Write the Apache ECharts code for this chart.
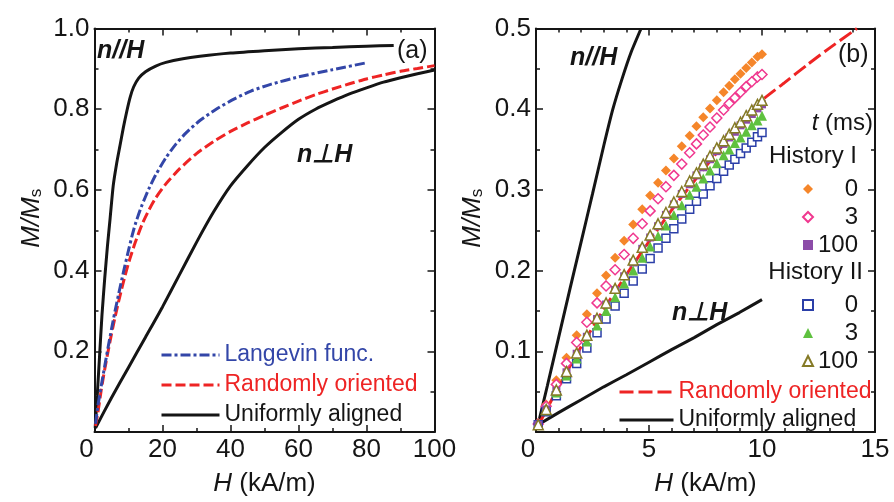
<!DOCTYPE html>
<html><head><meta charset="utf-8">
<script src="https://cdn.jsdelivr.net/npm/echarts@6/dist/echarts.min.js"></script>
<style>html,body{margin:0;padding:0;background:#fff}#c{width:894px;height:502px}</style>
</head><body><div id="c"></div>
<script>
// ---------- Panel (a) ----------
const parH_a = [0.2,0.8,1.5,2.2,3.0,3.8,4.6,5.5,6.5,7.5,8.5,9.5,10.5,11.5,13,15,18,21,26,31,40,50,60,70,80,88];
const parM_a = [0.01,0.09,0.19,0.29,0.38,0.46,0.53,0.61,0.665,0.71,0.755,0.795,0.83,0.855,0.877,0.893,0.907,0.916,0.925,0.931,0.939,0.945,0.95,0.953,0.956,0.958];
const perpH_a = [0.3,5,10,15,20,25,30,35,40,45,50,55,60,65,70,75,80,85,90,95,100];
const perpM_a = [0.01,0.085,0.16,0.235,0.31,0.39,0.47,0.545,0.61,0.66,0.705,0.742,0.775,0.8,0.82,0.838,0.853,0.867,0.878,0.888,0.897];
const langH_a = [0.3,1,2,3,4,5,6,7,8,9,10,11,12,13,14,16,18,21,24,27,31,36,41,46,52,60,70,80];
const langM_a = [0.02,0.065,0.115,0.163,0.21,0.255,0.298,0.338,0.377,0.414,0.45,0.485,0.515,0.54,0.563,0.603,0.637,0.68,0.714,0.742,0.772,0.801,0.825,0.845,0.862,0.88,0.898,0.915];
const randH_a = [0.3,1,2,3,4,5,6,7,8,9,10,11,12,14,16,18,21,25,30,35,40,45,50,55,60,65,70,75,80,85,90,95,100];
const randM_a = [0.015,0.048,0.105,0.155,0.2,0.243,0.283,0.32,0.355,0.388,0.418,0.445,0.47,0.515,0.55,0.58,0.615,0.652,0.69,0.72,0.745,0.766,0.785,0.803,0.82,0.836,0.85,0.863,0.875,0.885,0.894,0.901,0.908];

// ---------- Panel (b) ----------
const parH_b = [0.1,0.5,1.0,1.5,2.0,2.5,3.0,3.4,3.8,4.2,4.65];
const parM_b = [0.01,0.057,0.117,0.177,0.236,0.295,0.355,0.4,0.437,0.47,0.5];
const perpH_b = [0.1,1,2,3,4,5,6,7,8,9,10];
const perpM_b = [0.009,0.024,0.04,0.056,0.071,0.0865,0.102,0.117,0.133,0.148,0.164];
const randH_b = [0.1,1,2,3,4,5,6,7,8,9,10,11,12,13,14,14.2];
const randM_b = [0.008,0.056,0.106,0.152,0.195,0.236,0.275,0.311,0.346,0.38,0.411,0.433,0.455,0.476,0.496,0.5];

const H_b = [0.1,0.45,0.9,1.35,1.8,2.25,2.7,3.1,3.5,3.9,4.3,4.7,5.05,5.4,5.75,6.1,6.45,6.8,7.1,7.4,7.7,8.0,8.3,8.55,8.8,9.05,9.3,9.55,9.8,10.0];
const hist1_0   = [0.011,0.034,0.064,0.092,0.120,0.146,0.172,0.194,0.216,0.237,0.257,0.276,0.293,0.309,0.324,0.339,0.354,0.367,0.379,0.390,0.401,0.411,0.421,0.429,0.437,0.444,0.451,0.458,0.465,0.468];
const hist1_3   = [0.010,0.032,0.059,0.085,0.111,0.136,0.160,0.181,0.201,0.220,0.240,0.258,0.274,0.289,0.304,0.318,0.332,0.346,0.357,0.368,0.378,0.389,0.399,0.407,0.414,0.421,0.428,0.434,0.440,0.443];
const hist1_100 = [0.009,0.028,0.051,0.074,0.097,0.118,0.140,0.158,0.176,0.193,0.210,0.227,0.241,0.255,0.269,0.282,0.295,0.307,0.318,0.328,0.338,0.348,0.357,0.365,0.372,0.380,0.387,0.394,0.401,0.406];
const hist2_0   = [0.009,0.025,0.045,0.066,0.085,0.104,0.123,0.140,0.156,0.172,0.187,0.202,0.215,0.228,0.240,0.252,0.264,0.276,0.286,0.295,0.305,0.314,0.323,0.331,0.338,0.345,0.352,0.359,0.366,0.371];
const hist2_3   = [0.009,0.027,0.049,0.070,0.091,0.112,0.132,0.150,0.167,0.184,0.200,0.216,0.230,0.243,0.256,0.269,0.281,0.294,0.304,0.314,0.324,0.333,0.343,0.350,0.358,0.365,0.372,0.380,0.386,0.392];
const hist2_100 = [0.009,0.028,0.052,0.075,0.098,0.120,0.141,0.160,0.178,0.195,0.213,0.229,0.244,0.258,0.272,0.285,0.298,0.311,0.321,0.332,0.342,0.352,0.361,0.369,0.377,0.384,0.392,0.399,0.406,0.411];

const FONT = "'Liberation Sans', Arial, sans-serif";
const INK = '#151515';
const zip = (xs, ys) => xs.map((x, i) => [x, ys[i]]);

function xAxis(grid, pos, max, interval, minorSplit) {
  const bottom = pos === 'bottom';
  return {
    type: 'value', gridIndex: grid, position: pos, min: 0, max: max, interval: interval,
    axisLine: { show: true, onZero: false, lineStyle: { color: INK, width: 2 } },
    axisTick: { show: true, inside: true, length: 7, lineStyle: { color: INK, width: 1.5 } },
    minorTick: { show: true, splitNumber: minorSplit, length: 4, lineStyle: { color: INK, width: 1.5 } },
    splitLine: { show: false }, minorSplitLine: { show: false },
    axisLabel: bottom ? {
      show: true, fontSize: 26, fontFamily: FONT, color: INK, margin: 5,
      formatter: v => v === 0 ? '{z|0}' : String(v),
      rich: { z: { fontSize: 26, fontFamily: FONT, color: INK, padding: [0, 16, 0, 0] } }
    } : { show: false },
    name: bottom ? '{i|H} (kA/m)' : '', nameLocation: 'middle', nameGap: 39,
    nameTextStyle: { fontSize: 26, fontFamily: FONT, color: INK,
      rich: { i: { fontSize: 26, fontFamily: FONT, fontStyle: 'italic', color: INK } } }
  };
}
function yAxis(grid, pos, max, interval) {
  const left = pos === 'left';
  return {
    type: 'value', gridIndex: grid, position: pos, min: 0, max: max, interval: interval,
    axisLine: { show: true, onZero: false, lineStyle: { color: INK, width: 2 } },
    axisTick: { show: true, inside: true, length: 7, lineStyle: { color: INK, width: 1.5 } },
    minorTick: { show: true, splitNumber: 2, length: 4, lineStyle: { color: INK, width: 1.5 } },
    splitLine: { show: false }, minorSplitLine: { show: false },
    axisLabel: left ? { show: true, fontSize: 26, fontFamily: FONT, color: INK, margin: 5,
      formatter: v => v === 0 ? '' : v.toFixed(1) } : { show: false },
    name: left ? '{i|M/M}{s|s}' : '', nameLocation: 'middle', nameGap: 50, nameRotate: 90,
    nameTextStyle: { fontSize: 26, fontFamily: FONT, color: INK, padding: [0, 0, 0, 24],
      rich: { i: { fontSize: 26, fontFamily: FONT, fontStyle: 'italic', color: INK },
              s: { fontSize: 17, fontFamily: FONT, color: INK, verticalAlign: 'bottom' } } }
  };
}
function line(name, xs, ys, xi, color, type, width) {
  return { name: name, type: 'line', xAxisIndex: xi, yAxisIndex: xi, data: zip(xs, ys),
    symbol: 'none', smooth: 0.2, z: 2,
    lineStyle: { color: color, width: width || 3, type: type || 'solid', cap: 'butt' },
    itemStyle: { color: color } };
}
function scat(name, ys, symbol, size, fill, border) {
  return { name: name, type: 'scatter', xAxisIndex: 2, yAxisIndex: 2, data: zip(H_b, ys),
    symbol: symbol, symbolSize: size, z: 3,
    itemStyle: border ? { color: '#fff', borderColor: border, borderWidth: 1.5, opacity: 1 }
                      : { color: fill, opacity: 1 } };
}
const txt = (x, y, text, opts) => ({ type: 'text', x: x, y: y, z: 50,
  style: Object.assign({ text: text, fontSize: 25, fontFamily: FONT, fill: INK,
    align: 'left', verticalAlign: 'middle', textAlign: 'left', textVerticalAlign: 'middle' }, opts || {}) });

const chart = echarts.init(document.getElementById('c'), null, { renderer: 'canvas' });
const legText = { fontSize: 23, fontFamily: FONT, color: INK, lineHeight: 24 };
const mk = { fontSize: 24, fontFamily: FONT, color: INK, lineHeight: 24 };
chart.setOption({
  animation: false,
  backgroundColor: '#fff',
  grid: [
    { left: 94.5, top: 28.5, width: 340, height: 412 },
    { left: 536, top: 28.5, width: 339, height: 412 }
  ],
  xAxis: [ xAxis(0, 'bottom', 100, 20, 2), xAxis(0, 'top', 100, 20, 2),
           xAxis(1, 'bottom', 15, 5, 5), xAxis(1, 'top', 15, 5, 5) ],
  yAxis: [ yAxis(0, 'left', 1.0, 0.2), yAxis(0, 'right', 1.0, 0.2),
           yAxis(1, 'left', 0.5, 0.1), yAxis(1, 'right', 0.5, 0.1) ],
  legend: [
    { selectedMode: false, orient: 'vertical', left: 155, top: 338, itemWidth: 58, itemHeight: 14, itemGap: 6,
      itemStyle: { opacity: 0 }, lineStyle: { width: 3 }, textStyle: legText,
      data: [ { name: 'Langevin func.', textStyle: { color: '#3346a8' } },
              { name: 'Randomly oriented', textStyle: { color: '#ee2424' } },
              { name: 'Uniformly aligned', textStyle: { color: INK } } ] },
    { selectedMode: false, orient: 'vertical', left: 797, top: 172, itemWidth: 10, itemHeight: 10, itemGap: 4,
      textStyle: Object.assign({ rich: { r: Object.assign({ width: 40, align: 'right' }, mk) } }, mk),
      formatter: n => '{r|' + n.split('-')[1] + '}',
      data: ['I-0', 'I-3', 'I-100'] },
    { selectedMode: false, orient: 'vertical', left: 797, top: 288, itemWidth: 10, itemHeight: 10, itemGap: 4,
      textStyle: Object.assign({ rich: { r: Object.assign({ width: 40, align: 'right' }, mk) } }, mk),
      formatter: n => '{r|' + n.split('-')[1] + '}',
      data: ['II-0', 'II-3', 'II-100'] },
    { selectedMode: false, orient: 'vertical', left: 613, top: 375, itemWidth: 54, itemHeight: 14, itemGap: 4,
      itemStyle: { opacity: 0 }, lineStyle: { width: 3 }, textStyle: legText,
      formatter: n => n.replace(' (b)', ''),
      data: [ { name: 'Randomly oriented (b)', textStyle: { color: '#ee2424' } },
              { name: 'Uniformly aligned (b)', textStyle: { color: INK } } ] }
  ],
  series: [
    line('Uniformly aligned', parH_a, parM_a, 0, INK, 'solid', 3),
    line('Uniformly aligned', perpH_a, perpM_a, 0, INK, 'solid', 3),
    line('Randomly oriented', randH_a, randM_a, 0, '#ee2424', [10, 4], 3),
    line('Langevin func.', langH_a, langM_a, 0, '#3346a8', [10, 3, 3, 3], 3),
    line('Uniformly aligned (b)', parH_b, parM_b, 2, INK, 'solid', 3),
    line('Uniformly aligned (b)', perpH_b, perpM_b, 2, INK, 'solid', 3),
    line('Randomly oriented (b)', randH_b, randM_b, 2, '#ee2424', [14, 5], 3),
    scat('I-0', hist1_0, 'diamond', 10, '#f5862a'),
    scat('I-3', hist1_3, 'diamond', 10, null, '#f0388f'),
    scat('II-0', hist2_0, 'rect', 8, null, '#2b3fa8'),
    scat('I-100', hist1_100, 'rect', 8, '#8c4ca8'),
    scat('II-3', hist2_3, 'triangle', 10, '#5fc13f'),
    scat('II-100', hist2_100, 'triangle', 10, null, '#857a26')
  ],
  graphic: [
    txt(97, 51, 'n//H', { fontWeight: 'bold', fontStyle: 'italic' }),
    txt(397, 51, '(a)'),
    txt(297, 155, 'n\u22A5H', { fontWeight: 'bold', fontStyle: 'italic' }),
    txt(570, 58, 'n//H', { fontWeight: 'bold', fontStyle: 'italic' }),
    txt(838, 55, '(b)'),
    txt(672, 313, 'n\u22A5H', { fontWeight: 'bold', fontStyle: 'italic' }),
    txt(873, 123, '{i|t} (ms)', { fontSize: 24, align: 'right', textAlign: 'right',
      rich: { i: { fontSize: 24, fontFamily: FONT, fontStyle: 'italic', fill: INK } } }),
    txt(857, 156, 'History I', { fontSize: 24, align: 'right', textAlign: 'right' }),
    txt(863, 272, 'History II', { fontSize: 24, align: 'right', textAlign: 'right' })
  ]
});
</script></body></html>
